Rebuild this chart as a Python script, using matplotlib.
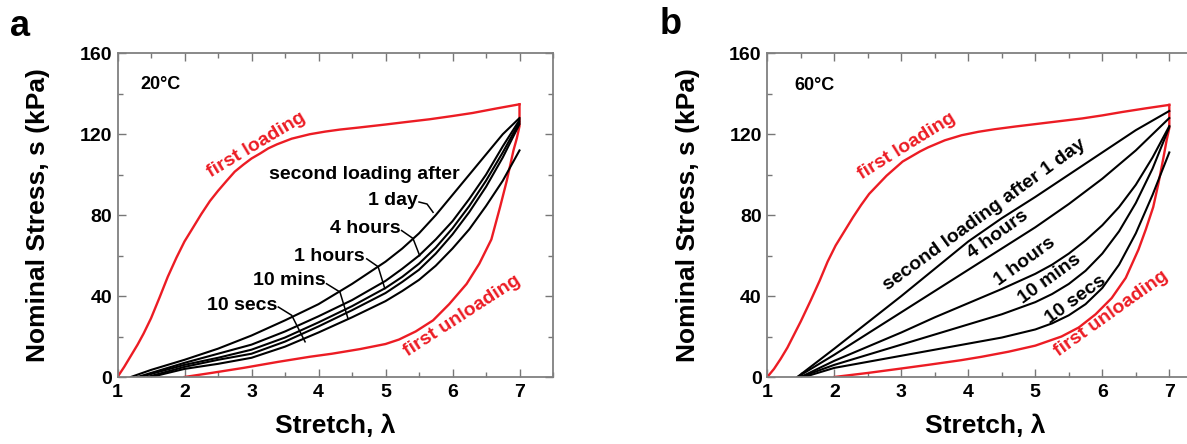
import matplotlib
matplotlib.use("Agg")
import matplotlib.pyplot as plt
from matplotlib.ticker import MultipleLocator

plt.rcParams['font.family'] = ['Liberation Sans', 'DejaVu Sans']
plt.rcParams['font.weight'] = 'bold'
plt.rcParams['axes.labelweight'] = 'bold'

RED = '#ec1c24'

# ---- panel a (20 C) ----
a_load_x = [1, 1.1, 1.2, 1.3, 1.39, 1.5, 1.63, 1.75, 1.88, 2.0, 2.13, 2.25, 2.38, 2.5, 2.63, 2.75,
            2.88, 3.0, 3.13, 3.25, 3.38, 3.6, 3.87, 4.1, 4.32, 4.6, 5, 5.3, 5.66, 6.0, 6.3, 6.65, 7]
a_load_y = [0, 5, 10.5, 16, 21.5, 29, 39.5, 49.5, 59, 67, 74, 80.5, 87, 92, 97, 101.5,
            105, 108, 110.5, 113, 115, 117.8, 120, 121.3, 122.3, 123.3, 124.8, 126, 127.4, 129, 130.5, 132.7, 134.8]
a_unload_x = [7, 7, 6.96, 6.91, 6.81, 6.71, 6.58, 6.4, 6.21, 5.95, 5.71, 5.45, 5.2, 5.0,
              4.62, 4.2, 3.87, 3.4, 2.88, 2.4, 2.0]
a_unload_y = [134.8, 124, 118, 112, 97, 84, 68, 56, 46, 36, 28, 22.5, 18.5, 16.3,
              13.8, 11.5, 10, 7.5, 4.5, 2, 0]

a_1day_x = [1.2, 1.5, 2, 2.5, 3, 3.5, 4, 4.5, 5, 5.25, 5.5, 5.75, 6, 6.25, 6.5, 6.75, 7]
a_1day_y = [0, 3.5, 8.5, 14, 20.5, 28, 36, 46, 57, 63.5, 71, 80, 90, 100, 110, 120, 128]
a_4h_x = [1.3, 1.5, 2, 2.5, 3, 3.5, 4, 4.5, 5, 5.25, 5.5, 5.75, 6, 6.25, 6.5, 6.75, 7]
a_4h_y = [0, 2, 7, 11.5, 16, 22.5, 30, 38, 47.5, 53.5, 60, 68, 77, 88, 100, 114, 127]
a_1h_x = [1.35, 1.5, 2, 2.5, 3, 3.5, 4, 4.5, 5, 5.25, 5.5, 5.75, 6, 6.25, 6.5, 6.75, 7]
a_1h_y = [0, 1.5, 6, 9.5, 13.5, 19.5, 27, 35, 44, 49.5, 56, 64, 73.5, 84.5, 97, 111, 126]
a_10m_x = [1.45, 1.5, 2, 2.5, 3, 3.5, 4, 4.5, 5, 5.25, 5.5, 5.75, 6, 6.25, 6.5, 6.75, 7]
a_10m_y = [0, 0.5, 5, 8.5, 11.5, 17.5, 25, 33, 41.5, 47, 53, 61, 70.5, 81.5, 94, 108.5, 125]
a_10s_x = [1.5, 2, 2.5, 3, 3.5, 4, 4.5, 5, 5.25, 5.5, 5.75, 6, 6.25, 6.5, 6.75, 7]
a_10s_y = [0, 4, 6.5, 9.5, 15, 22, 29.5, 37.5, 42.5, 48, 55, 63.5, 73, 84.5, 97, 112]

# ---- panel b (60 C) ----
b_load_x = [1, 1.1, 1.2, 1.3, 1.4, 1.5, 1.65, 1.78, 1.9, 2.02, 2.15, 2.28, 2.4, 2.52, 2.65, 2.78,
            2.9, 3.02, 3.15, 3.28, 3.4, 3.65, 3.9, 4.15, 4.4, 4.7, 5, 5.35, 5.7, 6.0, 6.3, 6.65, 7]
b_load_y = [0, 4, 9, 14.5, 21, 27.5, 38, 47.5, 57, 65, 72, 79, 85, 90.5, 95, 99.5,
            103, 106.5, 109, 111.5, 113.5, 117, 119.5, 121.2, 122.5, 123.8, 125, 126.4, 127.8, 129.3, 131, 132.8, 134.5]
b_unload_x = [7, 7, 6.96, 6.91, 6.84, 6.76, 6.65, 6.54, 6.35, 6.14, 5.9, 5.65, 5.39, 5.0,
              4.6, 4.2, 3.89, 3.4, 3, 2.5, 2.0]
b_unload_y = [134.5, 123, 117, 108, 96, 84, 73, 63, 49, 39, 31, 24.5, 20, 15.5,
              12.5, 10, 8.3, 6, 4.2, 2, 0]

b_1day_x = [1.45, 1.5, 2, 2.5, 3, 3.5, 4, 4.5, 5, 5.5, 6, 6.5, 7]
b_1day_y = [0, 1.3, 14, 27, 40, 53.5, 67, 78.5, 89, 100, 111, 122, 131.5]
b_4h_x = [1.45, 1.5, 2, 2.5, 3, 3.5, 4, 4.5, 5, 5.5, 6, 6.25, 6.5, 6.75, 7]
b_4h_y = [0, 1, 11, 21.5, 32, 42.5, 53, 63.5, 74, 85.5, 98, 105, 112, 120, 128]
b_1h_x = [1.5, 2, 2.5, 3, 3.5, 4, 4.5, 5, 5.25, 5.5, 5.75, 6, 6.25, 6.5, 6.75, 7]
b_1h_y = [0, 8, 15, 22, 29.5, 36.5, 43.5, 51, 55.5, 61, 67.5, 75, 84, 95, 108.5, 124]
b_10m_x = [1.5, 2, 2.5, 3, 3.5, 4, 4.5, 5, 5.25, 5.5, 5.75, 6, 6.25, 6.5, 6.75, 7]
b_10m_y = [0, 6, 11, 16, 21, 26, 31, 37, 41, 46, 52.5, 61, 72, 86, 103, 123.5]
b_10s_x = [1.55, 2, 2.5, 3, 3.5, 4, 4.5, 5, 5.25, 5.5, 5.75, 6, 6.25, 6.5, 6.75, 7]
b_10s_y = [0, 4.5, 7.5, 10.5, 13.5, 16.5, 19.5, 23.5, 26.5, 30.5, 36, 44, 55.5, 71, 90, 111]

# labels for the recovery curves
times = ['1 day', '4 hours', '1 hours', '10 mins', '10 secs']

# panel a: label anchors (right end) and pointer lines
a_lab_x = [5.49, 5.22, 4.69, 4.10, 3.38]
a_lab_y = [87, 73.2, 59.6, 47.8, 35.5]
a_ptr = [
    ([5.50, 5.62, 5.71], [86.5, 85.5, 81.4]),
    ([5.24, 5.41, 5.51], [72.4, 68.5, 60]),
    ([4.72, 4.89, 4.99], [58.4, 54.5, 43.7]),
    ([4.12, 4.32, 4.44], [46.1, 42, 28.9]),
    ([3.40, 3.60, 3.80], [34.6, 30.5, 17.4]),
]

# panel b: rotated labels
b_lab_text = ['second loading after 1 day', '4 hours', '1 hours', '10 mins', '10 secs']
b_lab_x = [4.24, 4.44, 4.84, 5.21, 5.60]
b_lab_y = [80.2, 70.4, 57.2, 48.2, 38.3]


def style_axes(ax):
    ax.set_xlim(1, 7.5)
    ax.set_ylim(0, 160)
    ax.xaxis.set_minor_locator(MultipleLocator(0.5))
    ax.yaxis.set_major_locator(MultipleLocator(40))
    ax.yaxis.set_minor_locator(MultipleLocator(20))
    ax.set_xticks([1, 2, 3, 4, 5, 6, 7])
    ax.tick_params(which='both', direction='in', top=True, right=True,
                   color='#777777', labelsize=14)
    ax.tick_params(which='major', length=6, width=1)
    ax.tick_params(which='minor', length=3.5, width=1)
    ax.tick_params(axis='x', pad=5)
    ax.tick_params(axis='y', pad=4)
    for sp in ax.spines.values():
        sp.set_color('#808080')
        sp.set_linewidth(1.3)
    ax.set_xlabel('Stretch, λ', fontsize=19, fontweight='bold')
    ax.set_ylabel('Nominal Stress, s (kPa)', fontsize=19, fontweight='bold')
    ax.xaxis.set_label_coords(0.5, -0.115)
    ax.yaxis.set_label_coords(-0.155, 0.5)


fig = plt.figure(figsize=(11.87, 4.44), dpi=100)
W, H = 1187, 444
bot = 1 - 377 / H
hgt = (377 - 53.3) / H
ax_a = fig.add_axes([117.5 / W, bot, 435.5 / W, hgt])
ax_b = fig.add_axes([767.3 / W, bot, 435.5 / W, hgt])

# panel a
ax_a.plot(a_load_x, a_load_y, color=RED, lw=1.7)
ax_a.plot(a_unload_x, a_unload_y, color=RED, lw=1.7)
for xs, ys in [(a_1day_x, a_1day_y), (a_4h_x, a_4h_y), (a_1h_x, a_1h_y),
               (a_10m_x, a_10m_y), (a_10s_x, a_10s_y)]:
    ax_a.plot(xs, ys, color='black', lw=1.5)
for t, x, y, (px, py) in zip(times, a_lab_x, a_lab_y, a_ptr):
    ax_a.text(x, y, t, ha='right', va='center', fontsize=14, fontweight='bold')
    ax_a.plot(px, py, color='black', lw=1.1)
ax_a.text(4.69, 100.2, 'second loading after', ha='center', va='center',
          fontsize=14, fontweight='bold')
ax_a.text(1.34, 144.5, '20°C', ha='left', va='center', fontsize=13, fontweight='bold')
ax_a.text(3.08, 114.7, 'first loading', color=RED, rotation=31, rotation_mode='anchor',
          ha='center', va='center', fontsize=14, fontweight='bold')
ax_a.text(6.14, 30, 'first unloading', color=RED, rotation=33, rotation_mode='anchor',
          ha='center', va='center', fontsize=14, fontweight='bold')
style_axes(ax_a)

# panel b
ax_b.plot(b_load_x, b_load_y, color=RED, lw=1.7)
ax_b.plot(b_unload_x, b_unload_y, color=RED, lw=1.7)
for xs, ys in [(b_1day_x, b_1day_y), (b_4h_x, b_4h_y), (b_1h_x, b_1h_y),
               (b_10m_x, b_10m_y), (b_10s_x, b_10s_y)]:
    ax_b.plot(xs, ys, color='black', lw=1.5)
for t, x, y in zip(b_lab_text, b_lab_x, b_lab_y):
    ax_b.text(x, y, t, rotation=36, rotation_mode='anchor', ha='center', va='center',
              fontsize=14, fontweight='bold')
ax_b.text(1.40, 144, '60°C', ha='left', va='center', fontsize=13, fontweight='bold')
ax_b.text(3.08, 114, 'first loading', color=RED, rotation=32, rotation_mode='anchor',
          ha='center', va='center', fontsize=14, fontweight='bold')
ax_b.text(6.13, 31.5, 'first unloading', color=RED, rotation=35.5, rotation_mode='anchor',
          ha='center', va='center', fontsize=14, fontweight='bold')
style_axes(ax_b)

fig.text(10 / W, 1 - 27 / H, 'a', fontsize=26, fontweight='bold', va='center', ha='left')
fig.text(660 / W, 1 - 25 / H, 'b', fontsize=26, fontweight='bold', va='center', ha='left')

fig.savefig('out.png', dpi=100)
